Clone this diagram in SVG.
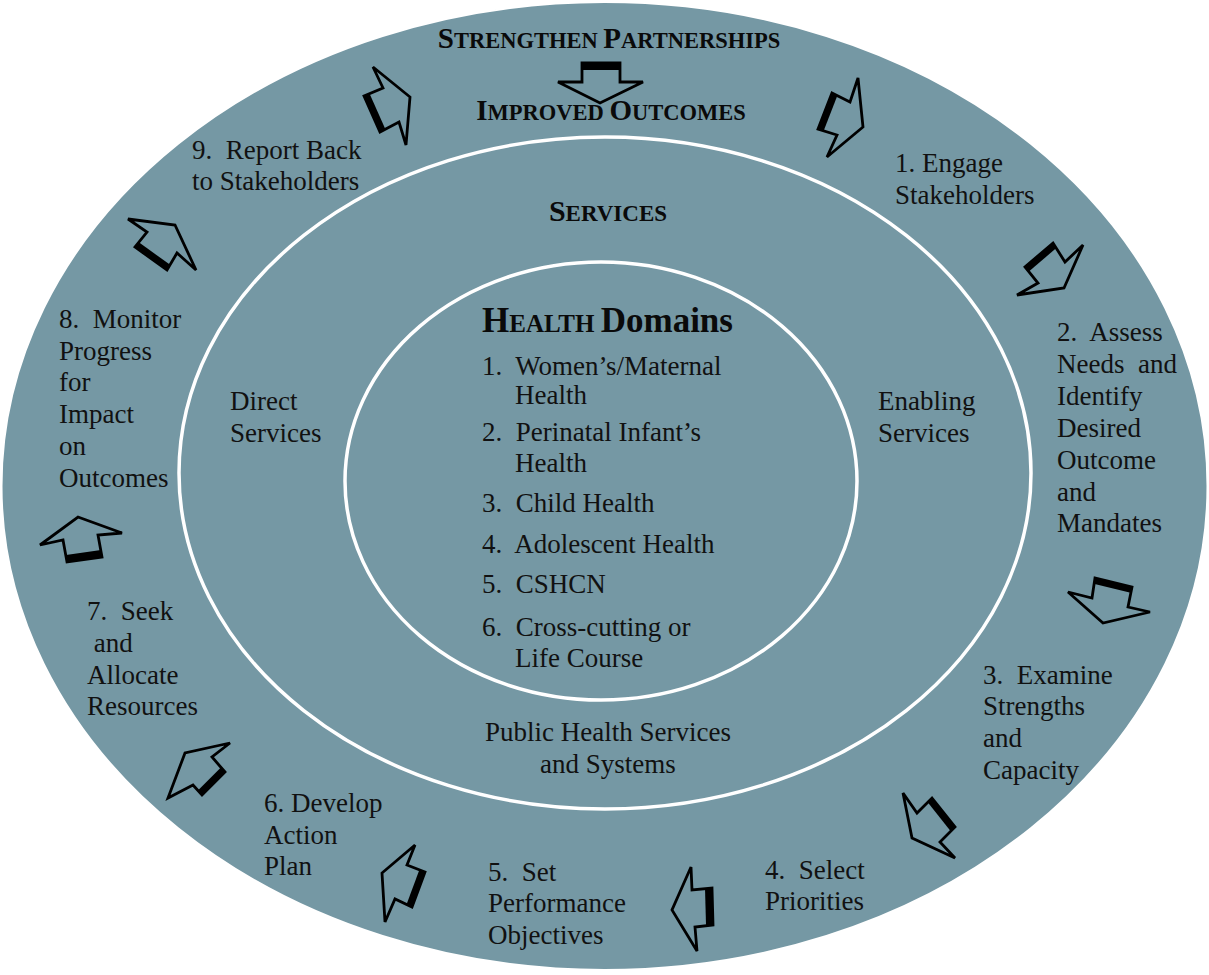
<svg xmlns="http://www.w3.org/2000/svg" width="1209" height="975" viewBox="0 0 1209 975" xml:space="preserve">
<style>
text{white-space:pre}
.lbl{font-family:"Liberation Serif","Times New Roman",serif;font-size:27px;fill:#111}
.ttl{font-family:"Liberation Serif","Times New Roman",serif;font-weight:bold;fill:#0a0a0a}
.ring{fill:none;stroke:#ffffff;stroke-width:3.5}
.arr{fill:none;stroke:#000;stroke-width:2.8;stroke-linejoin:miter}
.band{fill:#000}
</style>
<rect width="1209" height="975" fill="#ffffff"/>
<g id="outer-ring">
<ellipse cx="604.5" cy="486" rx="603" ry="484" fill="#7598A4" stroke="#ffffff" stroke-width="2"/>
</g>
<g id="services-ring">
<ellipse class="ring" cx="605" cy="473" rx="426" ry="336"/>
</g>
<g id="domains-ring">
<ellipse class="ring" cx="601" cy="481" rx="256" ry="219"/>
</g>

<g id="connectors">
<g id="arrow-top"><polygon class="arr" points="582,63 620,63 620,82 643,82 600,103 558,82 582,82"/><polygon class="band" points="582,63 620,63 620,70 582,70"/></g>
<g id="arrow-9-top"><polygon class="arr" points="373,67 410,97 406,145 399,122 380,132 364,96 383,88"/><polygon class="band" points="380,132 364,96 369.5,93.5 385.5,129.5"/></g>
<g id="arrow-top-1"><polygon class="arr" points="832,93 850,102 858,78 863,127 827,157 837,135 818,129"/><polygon class="band" points="832,93 818,129 823.5,131.3 837.5,95.3"/></g>
<g id="arrow-1-2"><polygon class="arr" points="1053,243 1065,262 1083,245 1064,288 1017,295 1038,283 1025,267"/><polygon class="band" points="1053,243 1025,267 1028.6,271.8 1056.6,247.8"/></g>
<g id="arrow-2-3"><polygon class="arr" points="1095,578 1092,598 1068,592 1103,623 1150,612 1128,607 1132,587"/><polygon class="band" points="1095,578 1132,587 1130.6,592.8 1093.6,583.8"/></g>
<g id="arrow-3-4"><polygon class="arr" points="903,793 917,813 932,798 955,827 940,842 955,858 912,838"/><polygon class="band" points="932,798 955,827 950.3,830.8 927.3,801.8"/></g>
<g id="arrow-4-5"><polygon class="arr" points="691,867 692,890 712,888 713,925 695,927 697,951 672,910"/><polygon class="band" points="712,888 713,925 706,925 705,888"/></g>
<g id="arrow-5-6"><polygon class="arr" points="415,845 407,865 425,872 412,907 395,899 385,922 382,873"/><polygon class="band" points="425,872 412,907 406.5,904.5 419.5,869.5"/></g>
<g id="arrow-6-7"><polygon class="arr" points="230,743 212,757 225,772 202,795 193,785 168,798 185,753"/><polygon class="band" points="225,772 202,795 197.9,790.6 220.9,767.6"/></g>
<g id="arrow-7-8"><polygon class="arr" points="78,517 122,533 98,535 102,557 67,562 63,540 40,545"/><polygon class="band" points="102,557 67,562 66,555 101,550"/></g>
<g id="arrow-8-9"><polygon class="arr" points="128,219 147,232 135,247 167,270 177,253 196,270 175,225"/><polygon class="band" points="135,247 167,270 170.5,265.1 138.5,242.1"/></g>
</g>

<g id="title-strengthen">
<text class="ttl" x="609" y="48" text-anchor="middle"><tspan font-size="29">S</tspan><tspan font-size="22.5">TRENGTHEN </tspan><tspan font-size="29">P</tspan><tspan font-size="22.5">ARTNERSHIPS</tspan></text>
</g>
<g id="title-outcomes">
<text class="ttl" x="611" y="120" text-anchor="middle"><tspan font-size="29">I</tspan><tspan font-size="22.5">MPROVED </tspan><tspan font-size="29">O</tspan><tspan font-size="22.5">UTCOMES</tspan></text>
</g>
<g id="title-services">
<text class="ttl" x="608" y="221" text-anchor="middle"><tspan font-size="30">S</tspan><tspan font-size="23">ERVICES</tspan></text>
</g>
<g id="title-domains">
<text class="ttl" x="482" y="332"><tspan font-size="35">H</tspan><tspan font-size="25">EALTH </tspan><tspan font-size="35">Domains</tspan></text>
</g>

<g id="step-1">
<text class="lbl" x="895" y="172">1. Engage</text>
<text class="lbl" x="895" y="204">Stakeholders</text>
</g>
<g id="step-2">
<text class="lbl" x="1057" y="341">2.  Assess</text>
<text class="lbl" x="1057" y="373">Needs  and</text>
<text class="lbl" x="1057" y="405">Identify</text>
<text class="lbl" x="1057" y="437">Desired</text>
<text class="lbl" x="1057" y="469">Outcome</text>
<text class="lbl" x="1057" y="501">and</text>
<text class="lbl" x="1057" y="532">Mandates</text>
</g>
<g id="step-3">
<text class="lbl" x="983" y="684">3.  Examine</text>
<text class="lbl" x="983" y="715">Strengths</text>
<text class="lbl" x="983" y="747">and</text>
<text class="lbl" x="983" y="779">Capacity</text>
</g>
<g id="step-4">
<text class="lbl" x="765" y="879">4.  Select</text>
<text class="lbl" x="765" y="910">Priorities</text>
</g>
<g id="step-5">
<text class="lbl" x="488" y="881">5.  Set</text>
<text class="lbl" x="488" y="912">Performance</text>
<text class="lbl" x="488" y="944">Objectives</text>
</g>
<g id="step-6">
<text class="lbl" x="264" y="812">6. Develop</text>
<text class="lbl" x="264" y="844">Action</text>
<text class="lbl" x="264" y="875">Plan</text>
</g>
<g id="step-7">
<text class="lbl" x="87" y="620">7.  Seek</text>
<text class="lbl" x="87" y="652"> and</text>
<text class="lbl" x="87" y="684">Allocate</text>
<text class="lbl" x="87" y="715">Resources</text>
</g>
<g id="step-8">
<text class="lbl" x="59" y="328">8.  Monitor</text>
<text class="lbl" x="59" y="360">Progress</text>
<text class="lbl" x="59" y="391">for</text>
<text class="lbl" x="59" y="423">Impact</text>
<text class="lbl" x="59" y="455">on</text>
<text class="lbl" x="59" y="487">Outcomes</text>
</g>
<g id="step-9">
<text class="lbl" x="192" y="159">9.  Report Back</text>
<text class="lbl" x="192" y="190">to Stakeholders</text>
</g>
<g id="direct-services">
<text class="lbl" x="230" y="410">Direct</text>
<text class="lbl" x="230" y="442">Services</text>
</g>
<g id="enabling-services">
<text class="lbl" x="878" y="410">Enabling</text>
<text class="lbl" x="878" y="442">Services</text>
</g>
<g id="domains-list">
<text class="lbl" x="482" y="375">1.  Women’s/Maternal</text>
<text class="lbl" x="515" y="404">Health</text>
<text class="lbl" x="482" y="441">2.  Perinatal Infant’s</text>
<text class="lbl" x="515" y="472">Health</text>
<text class="lbl" x="482" y="512">3.  Child Health</text>
<text class="lbl" x="482" y="553">4.  Adolescent Health</text>
<text class="lbl" x="482" y="593">5.  CSHCN</text>
<text class="lbl" x="482" y="636">6.  Cross-cutting or</text>
<text class="lbl" x="515" y="667">Life Course</text>
</g>
<g id="public-health">
<text class="lbl" x="608" y="741" text-anchor="middle">Public Health Services</text>
<text class="lbl" x="608" y="773" text-anchor="middle">and Systems</text>
</g>
</svg>
